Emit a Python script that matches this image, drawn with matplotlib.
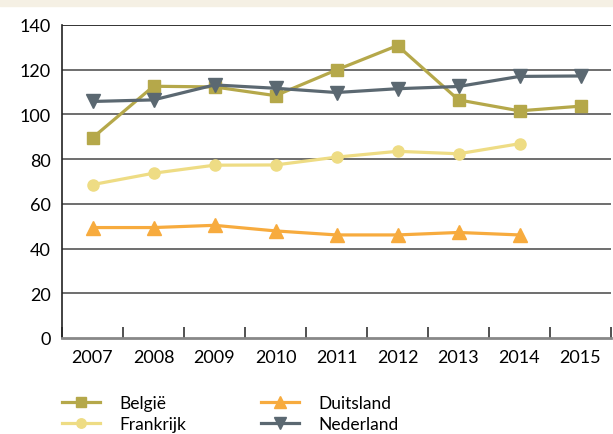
import matplotlib
matplotlib.use("Agg")
import matplotlib.pyplot as plt
from matplotlib.patches import Rectangle
import numpy as np

plt.rcParams['font.family'] = ['Lato', 'DejaVu Sans']

years = ['2007', '2008', '2009', '2010', '2011', '2012', '2013', '2014', '2015']
belgie = [89.5, 112.6, 112.3, 108.4, 119.9, 130.8, 106.5, 101.6, 103.7]
frankrijk = [68.6, 73.7, 77.3, 77.4, 80.9, 83.5, 82.4, 86.9]
duitsland = [49.4, 49.4, 50.4, 47.9, 46.1, 46.1, 47.2, 46.1]
nederland = [105.8, 106.5, 113.2, 111.7, 109.8, 111.5, 112.5, 117.0, 117.2]
yticks = [0, 20, 40, 60, 80, 100, 120, 140]

fig = plt.figure(figsize=(6.13, 4.35), dpi=100)
fig.patches.append(Rectangle((0, 1 - 7/435), 1, 7/435, transform=fig.transFigure,
                             color='#F5F0E4', zorder=0))
ax = fig.add_axes([62/613, 96/435, 549/613, 313/435])

x = np.arange(len(years))
ax.plot(x[:len(belgie)], belgie, color='#B5A84A', lw=2.3, marker='s', ms=9, label='België', zorder=3)
ax.plot(x[:len(frankrijk)], frankrijk, color='#EEDC84', lw=2.3, marker='o', ms=8, label='Frankrijk', zorder=3)
ax.plot(x[:len(duitsland)], duitsland, color='#F7AB3E', lw=2.3, marker='^', ms=9.5, label='Duitsland', zorder=3)
ax.plot(x[:len(nederland)], nederland, color='#5B6871', lw=2.3, marker='v', ms=9.5, label='Nederland', zorder=4)

ax.set_xlim(-0.5, len(years) - 0.5)
ax.set_ylim(0, 140)
ax.set_yticks(yticks)
ax.set_yticklabels([str(v) for v in yticks])
ax.set_xticks(x)
ax.set_xticklabels(years)
ax.set_xticks(np.arange(-0.5, len(years) - 0.4, 1), minor=True)
ax.tick_params(axis='x', which='major', length=0, pad=8, labelsize=13)
ax.tick_params(axis='x', which='minor', length=8, width=1.2, direction='in', color='#333333')
ax.tick_params(axis='y', length=0, pad=8, labelsize=13)
for gy in yticks[1:]:
    ax.axhline(gy, color='#555555' if gy != 140 else '#111111', lw=1.2, zorder=1)
ax.spines['right'].set_visible(False)
ax.spines['top'].set_visible(False)
ax.spines['left'].set_color('#222222')
ax.spines['left'].set_linewidth(1.2)
ax.spines['bottom'].set_color('#888888')
ax.spines['bottom'].set_linewidth(2)

leg = fig.legend(loc='upper left', bbox_to_anchor=(62/613, 1 - 396/435), ncol=2, frameon=False,
                 fontsize=12.5, handlelength=2.2, columnspacing=4.3, handletextpad=1.1,
                 labelspacing=0.3, borderaxespad=0, borderpad=0, markerscale=0.85)

fig.savefig('out.png', dpi=100)
